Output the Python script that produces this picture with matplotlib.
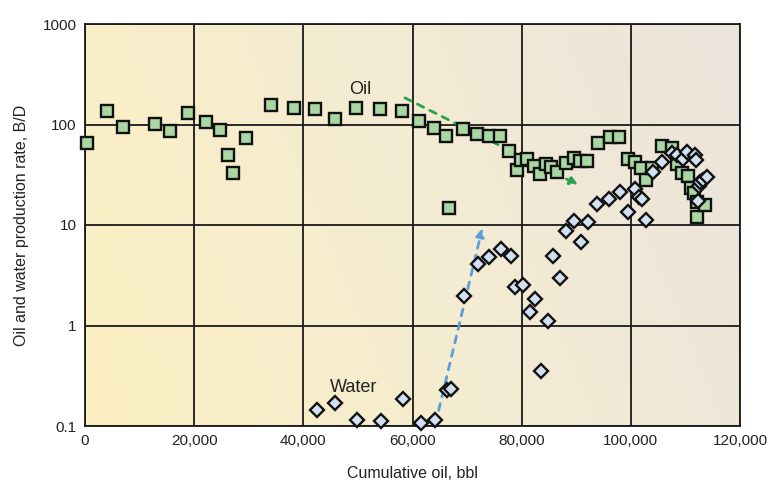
import numpy as np
import matplotlib
matplotlib.use("Agg")
import matplotlib.pyplot as plt
from matplotlib.colors import LinearSegmentedColormap
from matplotlib.ticker import FuncFormatter

plt.rcParams['font.family'] = ['Liberation Sans', 'DejaVu Sans']

# Oil rate (green squares)
oil_x = [300, 3975, 6900, 12770, 15570, 18930, 22100, 24790, 26140, 27050, 29440,
         34020, 38350, 42080, 45740, 49700, 54100, 58130, 61250, 63880, 66130,
         66680, 69300, 71760, 74070, 76000, 77730, 79100, 79870, 80920, 82250,
         83350, 84460, 85310, 86530, 88120, 89580, 90690, 91900, 93910, 96180,
         97770, 99540, 100760, 101920, 102770, 103820, 105630, 107470, 108380,
         109370, 110400, 111020, 111570, 112060, 112180, 113580]
oil_y = [66, 135, 95, 102, 85.5, 130, 106, 87.5, 50, 33, 74,
         156, 147, 144, 113, 147, 144, 137, 108, 92, 76,
         14.7, 89.5, 81, 76, 76, 55, 35.5, 44, 45, 38.6,
         32, 40, 38, 34, 41.6, 46.8, 43, 43.4, 65, 74.5,
         74.5, 45.7, 42, 37, 27.8, 36.5, 61, 59, 40,
         33, 30.7, 23.5, 21, 12, 17, 15.8]

# Water rate (blue diamonds)
water_x = [42500, 45860, 49830, 54170, 58260, 61500, 64180, 66260, 67000,
           69490, 71940, 74070, 76210, 77990, 78780, 80300, 81520, 82440,
           83480, 84880, 85800, 87020, 88120, 89580, 90870, 92080, 93730,
           95930, 98060, 99540, 100760, 101430, 101980, 102770, 103990,
           105630, 107470, 108380, 109610, 110340, 111750, 111930, 112550,
           112670, 113160, 113890, 112300]
water_y = [0.143, 0.171, 0.116, 0.112, 0.184, 0.108, 0.114, 0.228, 0.232,
           1.97, 4.12, 4.8, 5.8, 4.9, 2.42, 2.53, 1.35, 1.84,
           0.35, 1.11, 4.9, 2.95, 8.7, 11, 6.7, 10.7, 16.2,
           18.2, 21.3, 13.5, 22.8, 19, 18.3, 11.2, 34,
           42.4, 52, 50, 45.7, 53, 50, 44.4, 24.7,
           26.8, 28.2, 30.3, 17.2]

# trend arrows (start, end)
oil_arrow = [(58620, 184), (90380, 25)]
water_arrow = [(64200, 0.105), (72790, 9.3)]

fig = plt.figure(figsize=(7.68, 4.88), dpi=100)
ax = fig.add_axes([85 / 768, 62 / 488, 655 / 768, 402 / 488])

# background gradient, yellow at lower left to grey-beige at upper right
bg = LinearSegmentedColormap.from_list('bg', ['#fdf0c2', '#f4ecd2', '#ebe4dc'])
gx, gy = np.meshgrid(np.linspace(0, 1, 300), np.linspace(0, 1, 200))
ax.imshow(0.8 * gx + 0.2 * gy, cmap=bg, origin='lower', aspect='auto',
          extent=[0, 1, 0, 1], transform=ax.transAxes, zorder=0)

ax.set_yscale('log')
ax.set_xlim(0, 120000)
ax.set_ylim(0.1, 1000)
ax.set_xticks(np.arange(0, 120001, 20000))
ax.set_yticks([0.1, 1, 10, 100, 1000])
ax.minorticks_off()
ax.xaxis.set_major_formatter(FuncFormatter(lambda v, p: f"{int(v):,}"))
ax.yaxis.set_major_formatter(FuncFormatter(lambda v, p: f"{v:g}"))
ax.tick_params(length=0, labelsize=11, pad=6, labelcolor='#222222')
ax.grid(True, color='#1a1a1a', lw=1.3, zorder=1)
for s in ax.spines.values():
    s.set_linewidth(1.3)
    s.set_color('#1a1a1a')

# trend arrows
(ox0, oy0), (ox1, oy1) = oil_arrow
ax.annotate('', xy=(ox1, oy1), xytext=(ox0, oy0),
            arrowprops=dict(arrowstyle='-|>', color='#2aa24c', lw=2,
                            ls=(0, (2.5, 2.5)), mutation_scale=12,
                            shrinkA=0, shrinkB=0), zorder=2)
(wx0, wy0), (wx1, wy1) = water_arrow
ax.annotate('', xy=(wx1, wy1), xytext=(wx0, wy0),
            arrowprops=dict(arrowstyle='-|>', color='#5a9fd8', lw=2,
                            ls=(0, (2.5, 2.5)), mutation_scale=12,
                            shrinkA=0, shrinkB=0), zorder=2)

ax.plot(oil_x, oil_y, ls='none', marker='s', ms=8, mfc='#a9d6a2',
        mec='#111111', mew=1.7, zorder=3, clip_on=False)
ax.plot(water_x, water_y, ls='none', marker='D', ms=7.5, mfc='#d2e0f4',
        mec='#111111', mew=1.7, zorder=4, clip_on=False)

ax.text(50400, 224, 'Oil', fontsize=13, ha='center', va='center', color='#222222')
ax.text(49200, 0.243, 'Water', fontsize=13, ha='center', va='center', color='#222222')

ax.set_xlabel('Cumulative oil, bbl', fontsize=11.5, labelpad=13, color='#222222')
ax.set_ylabel('Oil and water production rate, B/D', fontsize=11.5, labelpad=10,
              color='#222222')

fig.savefig('out.png', dpi=100)
